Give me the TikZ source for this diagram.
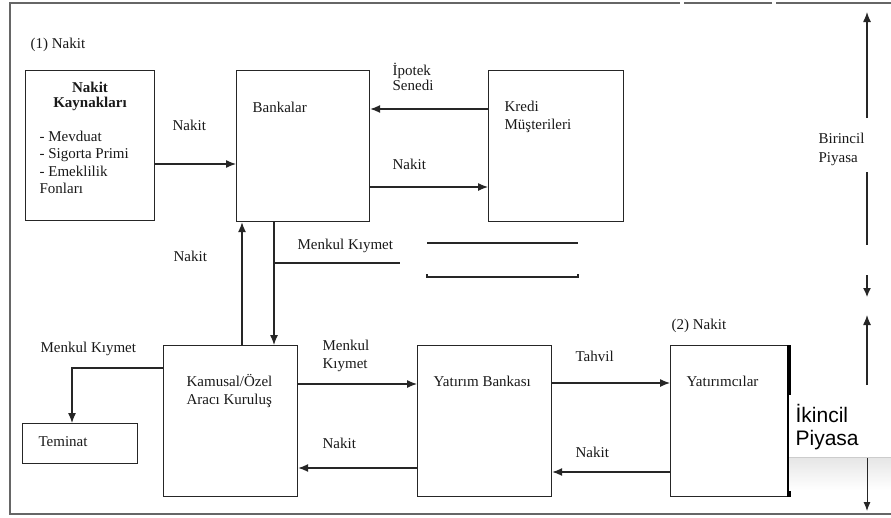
\documentclass[tikz,border=0pt]{standalone}
\usepackage{fontspec}
\setmainfont{Liberation Serif}
\newfontfamily\arialfont{Liberation Sans}
\usetikzlibrary{arrows.meta}

\begin{document}
\begin{tikzpicture}[x=1pt,y=-1pt,line width=1.2pt,color=black!85,
	every node/.style={font=\fontsize{15}{18}\selectfont,inner sep=0pt,text=black!90},
	box/.style={draw,rectangle,anchor=north west,minimum height=151},
	txt/.style={anchor=base west}]
			\useasboundingbox (0,0) rectangle (891,517);
			% frame
			\draw[line width=1.8pt,black!60] (891,3) -- (776,3) (772,3) -- (684,3) (680,3) -- (10,3) -- (10,514) -- (891,514);
			% boxes
			\node[box,minimum width=129,minimum height=150] (kaynak) at (25,70) {};
			\node[box,minimum width=133] (banka) at (236,70) {};
			\node[box,minimum width=135] (kredi) at (488,70) {};
			\node[box,minimum width=134] (araci) at (163,345) {};
			\node[box,minimum width=115,minimum height=40] (teminat) at (22,423) {};
			\node[box,minimum width=134] (yatbank) at (417,345) {};
			\node[box,minimum width=118] (yatirimci) at (670,345) {};
			\draw[line width=3.5pt,black] (yatirimci.north east) -- (yatirimci.south east);
			% texts
			\node[txt] (nakit1) at (30,48) {(1) Nakit};
			\node[anchor=base,font=\fontsize{15}{18}\selectfont\bfseries] (kaynakA) at (90,92) {Nakit};
			\node[anchor=base,font=\fontsize{15}{18}\selectfont\bfseries] (kaynakB) at (90,107) {Kaynakları};
			\node[txt] (kaynakC) at (39,141) {- Mevduat};
			\node[txt] (kaynakD) at (39,158) {- Sigorta Primi};
			\node[txt] (kaynakE) at (39,176) {- Emeklilik};
			\node[txt] (kaynakF) at (39,193) {Fonları};
			\node[txt] (bankaT) at (252,112) {Bankalar};
			\node[txt] (krediA) at (504,111) {Kredi};
			\node[txt] (krediB) at (504,129) {Müşterileri};
			\node[txt] (araciA) at (186,386) {Kamusal/Özel};
			\node[txt] (araciB) at (186,404) {Aracı Kuruluş};
			\node[txt] (teminatT) at (38,446) {Teminat};
			\node[txt] (yatbankT) at (433,386) {Yatırım Bankası};
			\node[txt] (yatirimciT) at (686,386) {Yatırımcılar};
			\node[txt] (nakit2) at (671,329) {(2) Nakit};
			% arrow labels
			\node[txt] (lNakitA) at (172,130) {Nakit};
			\node[txt] (lIpotekA) at (392,75) {İpotek};
			\node[txt] (lIpotekB) at (392,90) {Senedi};
			\node[txt] (lNakitB) at (392,169) {Nakit};
			\node[txt] (lNakitC) at (173,261) {Nakit};
			\node[txt] (lMenkulA) at (297,249) {Menkul Kıymet};
			\node[txt] (lMenkulB) at (40,352) {Menkul Kıymet};
			\node[txt] (lMenkulC) at (322,350) {Menkul};
			\node[txt] (lMenkulD) at (322,368) {Kıymet};
			\node[txt] (lNakitD) at (322,448) {Nakit};
			\node[txt] (lTahvil) at (575,361) {Tahvil};
			\node[txt] (lNakitE) at (575,457) {Nakit};
			\node[txt] (birA) at (818,143) {Birincil};
			\node[txt] (birB) at (818,162) {Piyasa};
			% connectors
			\draw[->,>={Latex[length=10pt,width=8pt]}] ([yshift=-94]kaynak.north east) -- ([yshift=-94]banka.north west);
			\draw[->,>={Latex[length=10pt,width=8pt]}] ([yshift=-39]kredi.north west) -- ([yshift=-39]banka.north east);
			\draw[->,>={Latex[length=10pt,width=8pt]}] ([yshift=-117]banka.north east) -- ([yshift=-117]kredi.north west);
			\draw[->,>={Latex[length=10pt,width=8pt]}] ([xshift=79]araci.north west) -- ([xshift=6]banka.south west);
			\draw[->,>={Latex[length=10pt,width=8pt]}] ([xshift=38]banka.south west) -- ([xshift=111]araci.north west);
			\coordinate (mkA) at (274,263);
			\coordinate (mkB) at (400,263);
			\draw (mkA) -- (mkB);
			\draw (427,243) -- (578,243);
			\draw (427,274) -- (427,277) -- (578,277) -- (578,274);
			\draw[->,>={Latex[length=10pt,width=8pt]}] ([yshift=-23]araci.north west) -| ([xshift=50]teminat.north west);
			\draw[->,>={Latex[length=10pt,width=8pt]}] ([yshift=-39]araci.north east) -- ([yshift=-39]yatbank.north west);
			\draw[->,>={Latex[length=10pt,width=8pt]}] ([yshift=-123]yatbank.north west) -- ([yshift=-123]araci.north east);
			\draw[->,>={Latex[length=10pt,width=8pt]}] ([yshift=-38]yatbank.north east) -- ([yshift=-38]yatirimci.north west);
			\draw[->,>={Latex[length=10pt,width=8pt]}] ([yshift=-127]yatirimci.north west) -- ([yshift=-127]yatbank.north east);
			% market arrows
			\coordinate (pA) at (867,118);
			\coordinate (pB) at (867,12);
			\coordinate (pC) at (867,172);
			\coordinate (pD) at (867,245);
			\coordinate (pE) at (867,275);
			\coordinate (pF) at (867,297);
			\coordinate (pG) at (867,385);
			\coordinate (pH) at (867,315);
			\draw[->,>={Latex[length=10pt,width=8pt]}] (pA) -- (pB);
			\draw (pC) -- (pD);
			\draw[->,>={Latex[length=9pt,width=8pt]}] (pE) -- (pF);
			\draw[->,>={Latex[length=10pt,width=8pt]}] (pG) -- (pH);
			\fill[white] (789,395) rectangle (891,457);
			\shade[top color=black!10,bottom color=white,draw=none] (789,457) rectangle (891,490);
			\draw[line width=0.6pt,black!20] (789,457) -- (891,457);
			\node[txt,font=\fontsize{21}{24}\selectfont\arialfont,text=black] (ikiA) at (795,422) {İkincil};
			\node[txt,font=\fontsize{21}{24}\selectfont\arialfont,text=black] (ikiB) at (795,445) {Piyasa};
			\coordinate (pI) at (867,458);
			\coordinate (pJ) at (867,511);
			\draw[->,>={Latex[length=9pt,width=7pt]},line width=0.9pt] (pI) -- (pJ);
		\end{tikzpicture}
\end{document}
